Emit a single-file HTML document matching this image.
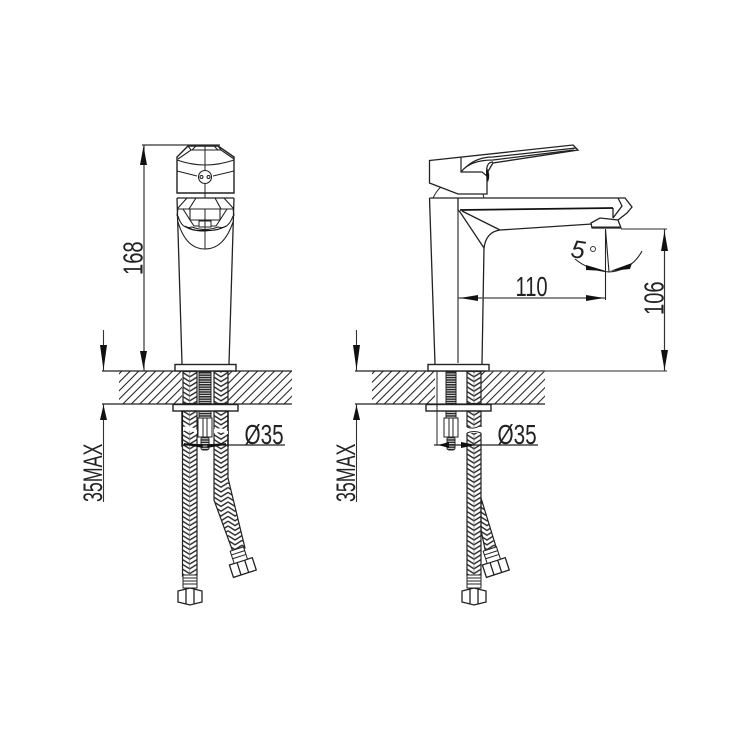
<!DOCTYPE html>
<html><head><meta charset="utf-8"><style>
html,body{margin:0;padding:0;background:#fff;width:750px;height:750px;overflow:hidden}
svg{display:block}
text{font-family:"Liberation Sans",sans-serif;fill:#222}
</style></head><body>
<svg width="750" height="750" viewBox="0 0 750 750" xmlns="http://www.w3.org/2000/svg">
<defs>
<pattern id="hatch" width="6" height="6" patternUnits="userSpaceOnUse" patternTransform="rotate(45)">
<line x1="0.500" y1="0" x2="0.500" y2="6" stroke="#222" stroke-width="1.100"/>
</pattern>
<pattern id="braid" width="14.500" height="4.800" patternUnits="userSpaceOnUse" x="182.500">
<path d="M0 -2L7.250 2.400L14.500 -2M0 2.800L7.250 7.200L14.500 2.800" fill="none" stroke="#2a2a2a" stroke-width="1.400"/>
<path d="M7.250 0V4.800" stroke="#777" stroke-width=".6"/>
</pattern>
<pattern id="braid2" width="14" height="4.800" patternUnits="userSpaceOnUse" x="214">
<path d="M0 -2L7 2.400L14 -2M0 2.800L7 7.200L14 2.800" fill="none" stroke="#2a2a2a" stroke-width="1.400"/>
</pattern>
<pattern id="braid3" width="14" height="4.800" patternUnits="userSpaceOnUse" x="467">
<path d="M0 -2L7 2.400L14 -2M0 2.800L7 7.200L14 2.800" fill="none" stroke="#2a2a2a" stroke-width="1.400"/>
<path d="M7 0V4.800" stroke="#777" stroke-width=".6"/>
</pattern>
<pattern id="thread" width="8" height="2.400" patternUnits="userSpaceOnUse">
<rect width="8" height="1.600" fill="#2a2a2a"/>
</pattern>
<g id="deck">
<rect x="119" y="371.500" width="63" height="32" fill="url(#hatch)"/>
<rect x="228" y="371.500" width="64" height="32" fill="url(#hatch)"/>
<path d="M102 371H292M102 404H292" stroke="#222" stroke-width="1.300" fill="none"/>
<path d="M103.500 330V371M103.500 404V502" stroke="#333" stroke-width="1.100" fill="none"/>
<path d="M100 345L107 345L103.500 370Z" fill="#111"/>
<path d="M100 420L107 420L103.500 405Z" fill="#111"/>
<text transform="translate(102,502) rotate(-90) scale(.66,1)" font-size="27">35MAX</text>
<rect x="175" y="364.500" width="61" height="6.500" fill="#fff" stroke="#222" stroke-width="1.400"/>
<rect x="173" y="404.500" width="65" height="6.500" fill="#fff" stroke="#222" stroke-width="1.400"/>
</g>
</defs>

<!-- FRONT VIEW -->
<use href="#deck"/>
<path d="M142 145H220" stroke="#333" stroke-width="1.300"/>
<path d="M144 145V371" stroke="#333" stroke-width="1.200"/>
<path d="M140 165L147 165L143.500 146Z M140 351L147 351L143.500 369Z" fill="#111"/>
<text transform="translate(142.500,275) rotate(-90) scale(.72,1)" font-size="28">168</text>
<path d="M177 193V157L188 146H218L234 157V193Z" fill="#fff" stroke="#222" stroke-width="1.400"/>
<path d="M178 159L191 150H221L234 159M188 146L191 150M218 146L221 150M196 146L192 150M214 146L218 150M177 160Q205 170 234 160M177 171L197 176M234 171L213 176" fill="none" stroke="#222" stroke-width="1.100"/>
<path d="M205 146V170M205 184V198" stroke="#222" stroke-width="1"/>
<circle cx="205" cy="177" r="6.500" fill="#fff" stroke="#222" stroke-width="1.100"/>
<circle cx="201.500" cy="177" r="1.500" fill="none" stroke="#222"/><circle cx="208.500" cy="177" r="1.500" fill="none" stroke="#222"/>
<path d="M177 198H234M177 198L182 364M234 198L229 364" fill="none" stroke="#222" stroke-width="1.300"/>
<path d="M187 198L178 208L177 216M224 198L233 208L234 216M196 198L189 209H221L215 198M178 209H189M221 209H233M183 209L190 220M227 209L220 220" fill="none" stroke="#222" stroke-width="1.100"/>
<path d="M190 209V220H220V209M190 220L194 226H216L220 220" fill="none" stroke="#222" stroke-width="1.100"/>
<rect x="199" y="221" width="12" height="6" fill="#fff" stroke="#222"/>
<path d="M178 216Q182 230 192 227Q205 232 218 227Q228 230 233 216" fill="none" stroke="#222" stroke-width="1.100"/>
<path d="M185 226Q195 232 205 230Q216 232 226 226Q220 230 205 231Q190 231 185 226Z" fill="#111" stroke="#111"/>
<path d="M178 222Q186 249 205 249Q224 249 233 222" fill="none" stroke="#222" stroke-width="1.100"/>
<path d="M205 209V249" stroke="#222"/>

<!-- front supply -->
<rect x="183" y="371.500" width="14" height="32" fill="url(#braid)" stroke="#222" stroke-width="1.200"/>
<rect x="214" y="371.500" width="14" height="32" fill="url(#braid2)" stroke="#222" stroke-width="1.200"/>
<rect x="199" y="371.500" width="12" height="32" fill="url(#thread)" stroke="#222"/>
<rect x="182.500" y="411" width="14.500" height="165" fill="url(#braid)" stroke="#222" stroke-width="1.200"/>
<path d="M214 411H228V445L228 478L245 548L233 552L214 500Z" fill="url(#braid2)" stroke="#222" stroke-width="1.200"/>
<path d="M182 411V447M228 411V447" stroke="#111" stroke-width="1.400"/>
<path d="M183 427Q190 425 197 430V434Q190 429 183 431ZM214 429Q222 427 228 431V434Q222 431 214 433Z" fill="#fff"/>
<rect x="199" y="411" width="12" height="7" fill="url(#thread)" stroke="#222"/>
<rect x="198" y="418" width="14" height="19" fill="#fff" stroke="#222"/>
<path d="M203 418V437M207 418V437" stroke="#222"/>
<rect x="201" y="437" width="8" height="13" rx="2" fill="url(#thread)" stroke="#222"/>
<path d="M182 445H285" stroke="#222" stroke-width="1.200"/>
<path d="M184 444L202 447L202 445ZM226 444L208 447V445Z" fill="#111" stroke="#111" stroke-width="1.500"/>
<text transform="translate(244.500,444) scale(.74,1)" font-size="28">Ø35</text>
<rect x="183" y="575" width="14" height="13" fill="#fff" stroke="#222"/>
<path d="M183 578H197M183 581H197M183 584H197" stroke="#222"/>
<path d="M178 591L190 588L202 591V602L190 605L178 602ZM186 589V604M194 589V604" fill="#fff" stroke="#222" stroke-width="1.300"/>
<g transform="rotate(-18 243 568)"><path d="M231 561H255V574H231ZM239 561V574M247 561V574" fill="#fff" stroke="#222" stroke-width="1.300"/>
<rect x="236" y="548" width="14" height="13" fill="#fff" stroke="#222"/>
<path d="M236 552H250M236 556H250" stroke="#222"/></g>

<!-- SIDE VIEW -->
<use href="#deck" x="253"/>
<path d="M429.500 160.500L573 145L578 150L493 163L487 173V194H458L429.500 183Z" fill="#fff" stroke="#222" stroke-width="1.300"/>
<path d="M461 157V172L482 172L487 176M461 172Q470 160 493 160L574 150M466 167Q477 157 493 157L576 148M487 176Q485 162 493 162" fill="none" stroke="#222" stroke-width="1.200"/>
<path d="M487 168Q491 175 488 182Q485 177 487 168Z" fill="#111"/>
<path d="M433 198Q437 190 441 187M483 194L484 198" fill="none" stroke="#222"/>
<path d="M429.500 198H625L632 207L627 213L618 220M429.500 198L435 364M484 248L482 364" fill="none" stroke="#222" stroke-width="1.300"/>
<path d="M458 198V210L460 212L484 248Q486 232 500 230L592 224M462 211L500 230M613 208V218M618 198L622 206L613 218" fill="none" stroke="#222" stroke-width="1.300"/>
<path d="M460 210L613 208" stroke="#111" stroke-width="1.700"/>
<path d="M591 223L600 218L618 220L621 228H592Z" fill="#fff" stroke="#222" stroke-width="1.300"/>
<path d="M592 227H621" stroke="#222"/>
<path d="M621 229H667M486 371H667" stroke="#555" stroke-width="1.200"/>
<path d="M664.500 229V371" stroke="#333" stroke-width="1.200"/>
<path d="M661 251H668L664.500 231ZM661 350H668L664.500 370Z" fill="#111"/>
<text transform="translate(663.500,315) rotate(-90) scale(.72,1)" font-size="28">106</text>
<path d="M458 210V363" stroke="#222" stroke-width="1.100"/>
<path d="M458 298H605.500" stroke="#444" stroke-width="1.200"/>
<path d="M460 298L478 295V301ZM604 298L586 295V301Z" fill="#111"/>
<path d="M605.500 229V300M605.500 229L609 272" stroke="#222" stroke-width="1.100"/>
<text transform="translate(515.500,296) scale(.72,1)" font-size="28">110</text>
<text x="571" y="258" font-size="25" font-style="italic" transform="rotate(8 578 250)">5</text>
<circle cx="593" cy="249" r="2.500" fill="none" stroke="#333"/>
<path d="M575 259Q588 270 609 272Q632 270 642 251" fill="none" stroke="#222" stroke-width="1.100"/>
<path d="M586 265L606 271L586 270Z M632 263L610 271L630 269Z" fill="#111"/>

<!-- side supply -->
<rect x="446" y="371.500" width="10" height="32" fill="url(#thread)" stroke="#222"/>
<rect x="467" y="371.500" width="14" height="32" fill="url(#braid3)" stroke="#222" stroke-width="1.200"/>
<path d="M481 498L497 550L486 554L481 530Z" fill="url(#braid2)" stroke="#222" stroke-width="1.200"/>
<rect x="467" y="411" width="14" height="165" fill="url(#braid3)" stroke="#222" stroke-width="1.200"/>
<path d="M437 371V445" stroke="#222"/>
<path d="M481 411V447" stroke="#222"/>
<rect x="466" y="427" width="18" height="6" fill="#fff"/>
<path d="M467 427Q474 430 481 425M467 433Q474 430 481 433" fill="none" stroke="#222"/>
<rect x="446" y="411" width="10" height="7" fill="url(#thread)" stroke="#222"/>
<rect x="444" y="418" width="14" height="19" fill="#fff" stroke="#222"/>
<path d="M449 418V437M453 418V437" stroke="#222"/>
<rect x="447" y="437" width="8" height="13" rx="2" fill="url(#thread)" stroke="#222"/>
<path d="M434 445H538" stroke="#222" stroke-width="1.200"/>
<path d="M438 445L449 442V448ZM476 445L461 442V448Z" fill="#111"/>
<text transform="translate(497.500,444) scale(.74,1)" font-size="28">Ø35</text>
<rect x="467" y="575" width="14" height="13" fill="#fff" stroke="#222"/>
<path d="M467 578H481M467 581H481M467 584H481" stroke="#222"/>
<path d="M462 591L474 588L486 591V602L474 605L462 602ZM470 589V604M478 589V604" fill="#fff" stroke="#222" stroke-width="1.300"/>
<g transform="rotate(-18 496 568)"><path d="M484 561H508V574H484ZM492 561V574M500 561V574" fill="#fff" stroke="#222" stroke-width="1.300"/>
<rect x="489" y="548" width="14" height="13" fill="#fff" stroke="#222"/>
<path d="M489 552H503M489 556H503" stroke="#222"/></g>
</svg>
</body></html>
